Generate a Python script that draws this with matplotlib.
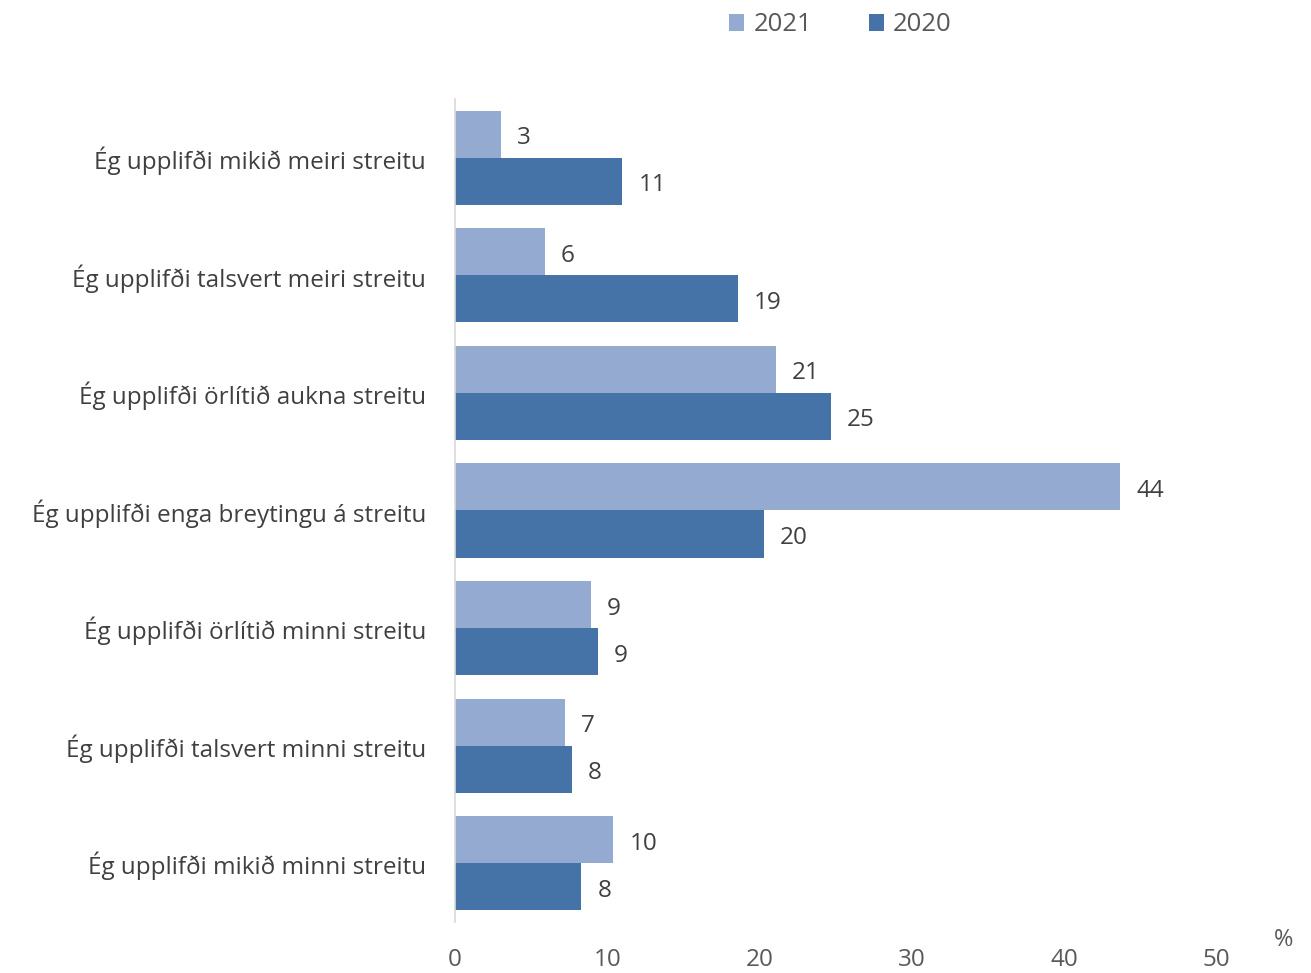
import matplotlib.pyplot as plt
import numpy as np

categories = [
    "Ég upplifði mikið meiri streitu",
    "Ég upplifði talsvert meiri streitu",
    "Ég upplifði örlítið aukna streitu",
    "Ég upplifði enga breytingu á streitu",
    "Ég upplifði örlítið minni streitu",
    "Ég upplifði talsvert minni streitu",
    "Ég upplifði mikið minni streitu",
]
vals_2021 = [3.0, 5.9, 21.1, 43.7, 8.9, 7.2, 10.4]
vals_2020 = [11.0, 18.6, 24.7, 20.3, 9.4, 7.7, 8.3]
labels_2021 = [3, 6, 21, 44, 9, 7, 10]
labels_2020 = [11, 19, 25, 20, 9, 8, 8]

c21 = "#95aad1"
c20 = "#4573a7"
txt = "#404040"

plt.rcParams['font.family'] = ['Open Sans', 'DejaVu Sans']

fig = plt.figure(figsize=(13.11, 9.73), dpi=100)
ax = fig.add_axes([0.3471, 0.0524, 0.5805, 0.8459])

y = np.arange(len(categories))
h = 0.4
b21 = ax.barh(y - h / 2, vals_2021, height=h, color=c21, label="2021")
b20 = ax.barh(y + h / 2, vals_2020, height=h, color=c20, label="2020")

for bars, labs in [(b21, labels_2021), (b20, labels_2020)]:
    for bar, lab in zip(bars, labs):
        ax.annotate(str(lab), (bar.get_width(), bar.get_y() + bar.get_height() / 2),
                    xytext=(16, -4), textcoords='offset pixels', va='center', ha='left',
                    fontsize=17.5, color=txt)

ax.set_xlim(0, 50)
ax.set_ylim(len(categories) - 0.5, -0.5)
ax.set_xticks([0, 10, 20, 30, 40, 50])
ax.set_yticks(y)
ax.set_yticklabels(categories)
ax.tick_params(axis='y', length=0, pad=21, labelsize=17.5, labelcolor=txt)
ax.tick_params(axis='x', length=0, pad=19, labelsize=17.5, labelcolor="#595959")

for s in ['top', 'right', 'bottom']:
    ax.spines[s].set_visible(False)
ax.spines['left'].set_color("#d9d9d9")
ax.spines['left'].set_linewidth(1.2)

fig.text(0.979, 0.022, "%", fontsize=17, color="#595959", ha='center', va='bottom')

fig.legend(handles=[b21, b20], labels=["2021", "2020"], loc='upper center',
           bbox_to_anchor=(0.641, 1.011), ncol=2, frameon=False, fontsize=18.5,
           handlelength=0.6, handleheight=0.6, handletextpad=0.35, columnspacing=2.2,
           labelcolor="#595959")

fig.savefig("out.png", dpi=100)
